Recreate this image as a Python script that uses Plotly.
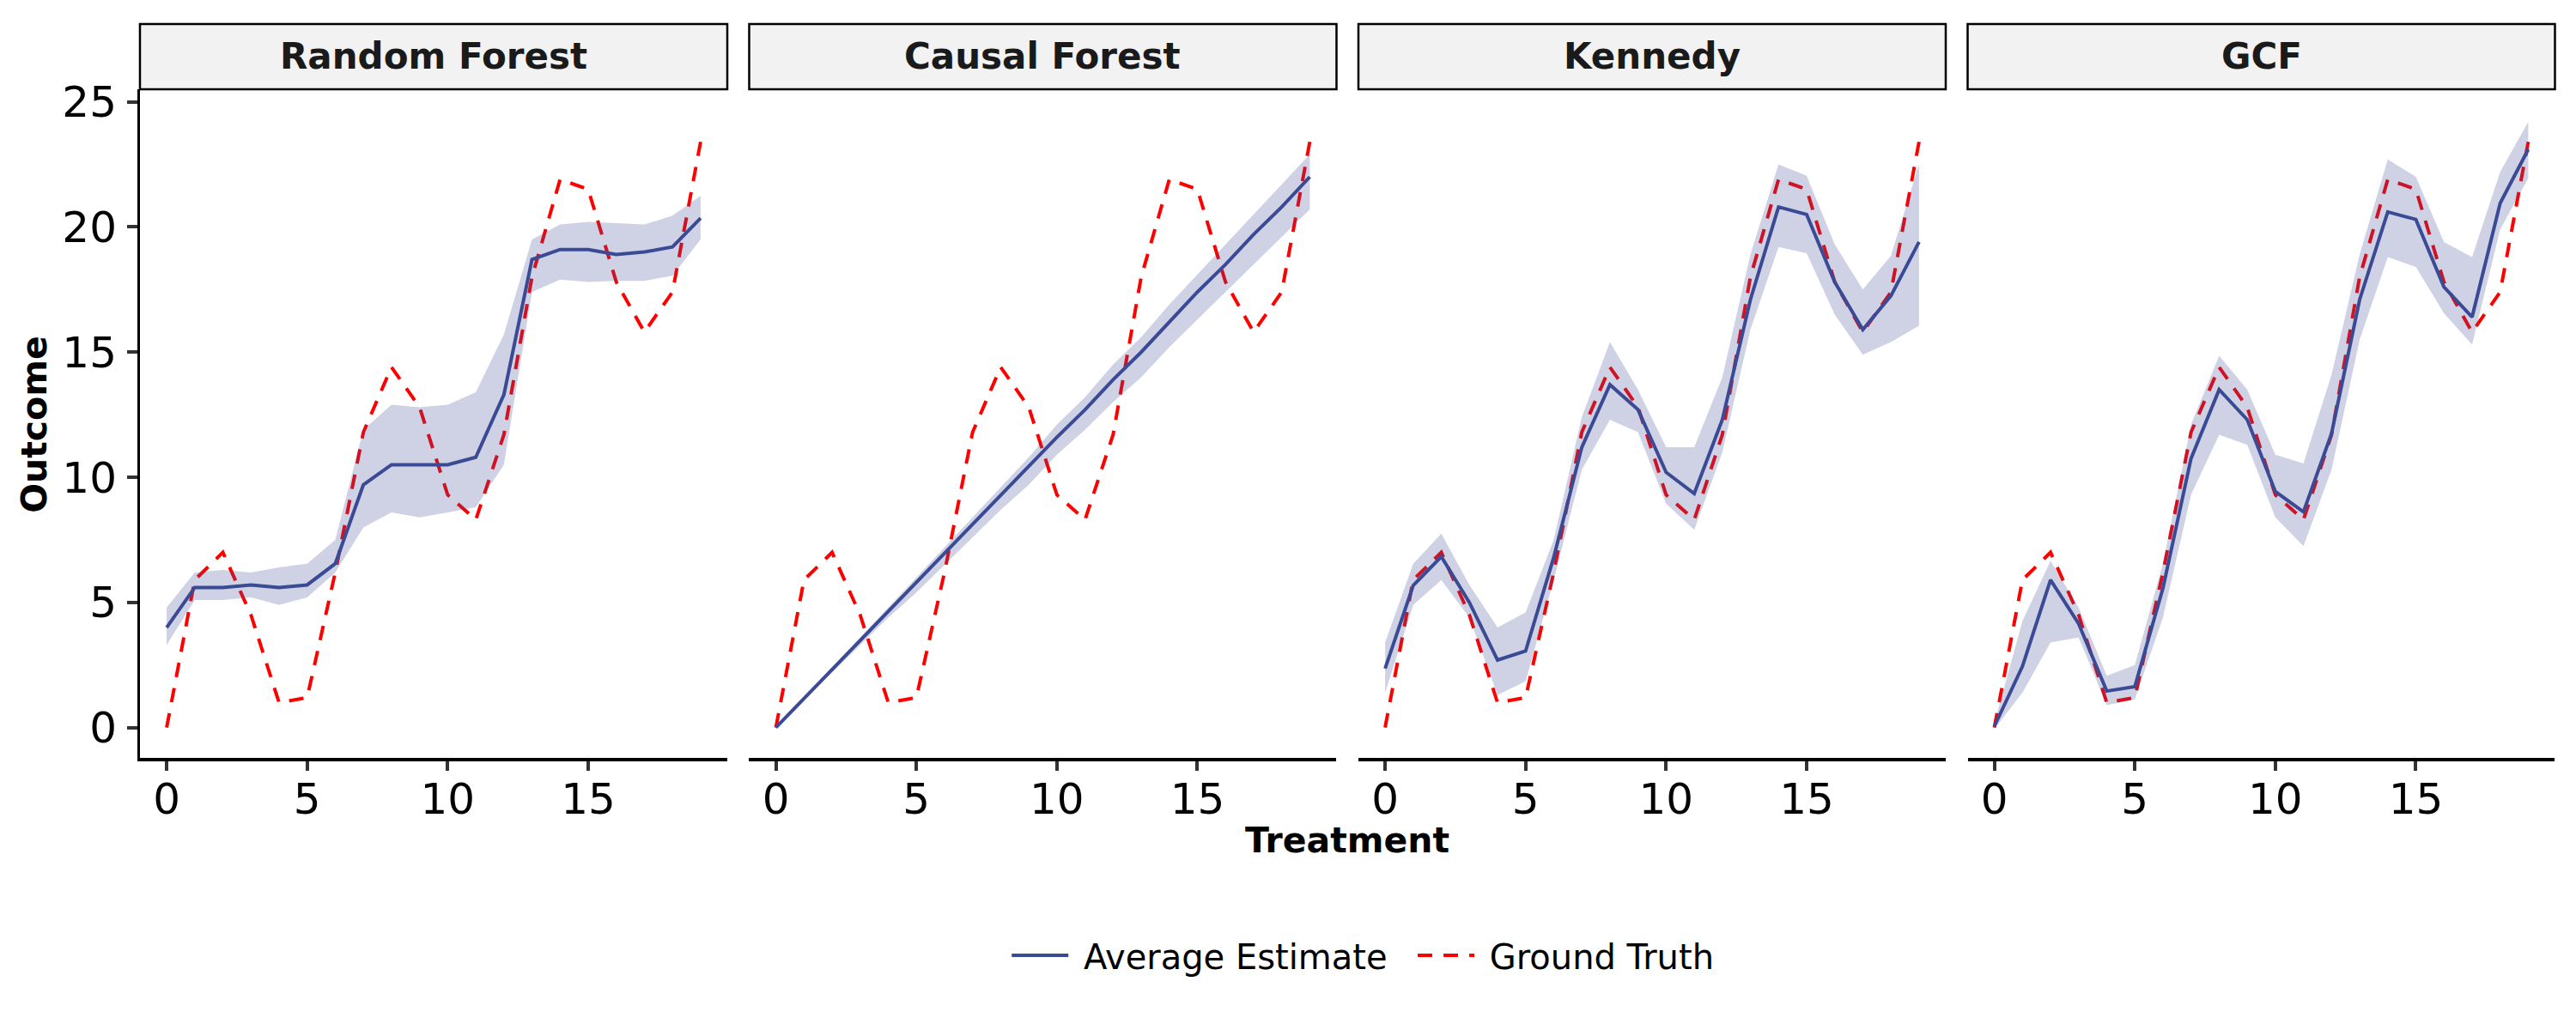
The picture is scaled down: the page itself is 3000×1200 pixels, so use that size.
import plotly.graph_objects as go

treatment = [0, 1, 2, 3, 4, 5, 6, 7, 8, 9, 10, 11, 12, 13, 14, 15, 16, 17, 18, 19]
methods = ["Random Forest", "Causal Forest", "Kennedy", "GCF"]

ground_truth = [0.0, 5.9, 7.0, 4.5, 1.0, 1.2, 6.2, 11.8, 14.4, 12.8,
                9.3, 8.3, 11.7, 18.0, 21.9, 21.5, 17.8, 15.8, 17.4, 23.4]

rf_est = [4.0, 5.6, 5.6, 5.7, 5.6, 5.7, 6.55, 9.7, 10.5, 10.5,
          10.5, 10.8, 13.3, 18.7, 19.1, 19.1, 18.9, 19.0, 19.2, 20.35]
rf_lo = [3.3, 5.1, 5.1, 5.2, 4.9, 5.2, 6.2, 8.0, 8.6, 8.4,
         8.6, 8.8, 10.5, 17.4, 17.9, 17.8, 17.85, 17.85, 18.05, 19.5]
rf_hi = [4.8, 6.2, 6.3, 6.2, 6.4, 6.55, 7.5, 11.9, 12.9, 12.8,
         12.9, 13.4, 15.7, 19.5, 20.1, 20.2, 20.15, 20.1, 20.45, 21.25]

cf_est = [0.0, 1.16, 2.32, 3.47, 4.63, 5.79, 6.95, 8.1, 9.26, 10.4,
          11.6, 12.7, 13.9, 15.0, 16.2, 17.4, 18.5, 19.7, 20.8, 22.0]
cf_lo = [0.0, 1.1, 2.2, 3.3, 4.4, 5.4, 6.5, 7.6, 8.7, 9.7,
         10.9, 11.9, 13.0, 14.0, 15.2, 16.3, 17.4, 18.5, 19.6, 20.7]
cf_hi = [0.0, 1.2, 2.4, 3.6, 4.8, 6.0, 7.2, 8.4, 9.6, 10.8,
         12.1, 13.2, 14.5, 15.6, 16.9, 18.1, 19.3, 20.5, 21.7, 22.9]

kn_est = [2.36, 5.68, 6.83, 5.0, 2.7, 3.06, 6.8, 11.2, 13.7, 12.7,
          10.2, 9.35, 12.3, 17.1, 20.8, 20.5, 17.8, 15.9, 17.25, 19.4]
kn_lo = [1.4, 4.9, 5.9, 4.4, 1.3, 1.85, 5.9, 10.3, 12.3, 11.8,
         8.95, 7.9, 11.0, 15.9, 19.2, 18.95, 16.5, 14.9, 15.4, 16.05]
kn_hi = [3.4, 6.55, 7.75, 5.7, 4.0, 4.6, 7.5, 12.4, 15.4, 13.5,
         11.2, 11.2, 14.0, 18.9, 22.5, 22.05, 19.3, 17.5, 18.85, 22.5]

gcf_est = [0.05, 2.45, 5.9, 4.15, 1.46, 1.64, 5.57, 10.75, 13.5, 12.3,
           9.43, 8.62, 11.75, 17.1, 20.6, 20.3, 17.6, 16.4, 20.95, 23.1]
gcf_lo = [-0.05, 1.4, 3.4, 3.6, 0.9, 1.13, 4.4, 9.3, 11.7, 11.3,
          8.4, 7.25, 10.3, 15.5, 18.8, 18.4, 16.55, 15.3, 19.9, 21.95]
gcf_hi = [0.17, 4.26, 6.66, 4.8, 2.07, 2.5, 6.55, 12.1, 14.85, 13.5,
          10.9, 10.55, 14.1, 18.9, 22.7, 22.0, 19.4, 18.8, 22.2, 24.2]

estimates = [rf_est, cf_est, kn_est, gcf_est]
lowers = [rf_lo, cf_lo, kn_lo, gcf_lo]
uppers = [rf_hi, cf_hi, kn_hi, gcf_hi]

BLUE = "#3B4A94"
BAND = "rgba(59,74,148,0.25)"
RED = "#FF0000"
FONT = "DejaVu Sans"
NB = "\u00a0"

# the page body keeps an 8px margin, so the figure is 2984x1184 to fit the window
W, H = 2984, 1184
x_domains = [[0.05194, 0.28117], [0.28971, 0.51893], [0.52748, 0.75670], [0.76525, 0.99447]]
y_domain = [0.26436, 0.92990]
strip_top = 0.99493

fig = go.Figure()

for i, name in enumerate(methods):
    xa = "x" if i == 0 else "x%d" % (i + 1)
    first = i == 0
    fig.add_trace(go.Scatter(
        x=treatment, y=ground_truth, mode="lines",
        name=NB + "Ground Truth",
        line=dict(color=RED, width=4, dash="17px,13px"),
        xaxis=xa, yaxis="y", showlegend=first, legendrank=2,
    ))
    fig.add_trace(go.Scatter(
        x=treatment, y=lowers[i], mode="lines", line=dict(width=0),
        xaxis=xa, yaxis="y", showlegend=False, hoverinfo="skip",
    ))
    fig.add_trace(go.Scatter(
        x=treatment, y=uppers[i], mode="lines", line=dict(width=0),
        fill="tonexty", fillcolor=BAND,
        xaxis=xa, yaxis="y", showlegend=False, hoverinfo="skip",
    ))
    fig.add_trace(go.Scatter(
        x=treatment, y=estimates[i], mode="lines",
        name=NB + "Average Estimate" + NB * 2,
        line=dict(color=BLUE, width=4),
        xaxis=xa, yaxis="y", showlegend=first, legendrank=1,
    ))

layout = dict(
    width=W, height=H,
    margin=dict(l=0, r=0, t=0, b=0),
    paper_bgcolor="white", plot_bgcolor="white",
    font=dict(family=FONT, color="black"),
    yaxis=dict(
        domain=y_domain, anchor="x", range=[-1.2, 25.5],
        tickvals=[0, 5, 10, 15, 20, 25], ticks="outside", ticklen=12,
        tickwidth=3.5, tickcolor="#333333", showgrid=False, zeroline=False,
        showline=True, linecolor="black", linewidth=3,
        tickfont=dict(size=50, color="black"), ticklabelstandoff=2,
    ),
    legend=dict(
        orientation="h", x=0.3905, y=0.06757, xanchor="left", yanchor="middle",
        font=dict(size=40, color="black"), traceorder="normal",
        itemwidth=66,
    ),
)
for i in range(4):
    key = "xaxis" if i == 0 else "xaxis%d" % (i + 1)
    layout[key] = dict(
        domain=x_domains[i], anchor="y", range=[-0.95, 19.95],
        tickvals=[0, 5, 10, 15], ticks="outside", ticklen=11, tickwidth=3.5,
        tickcolor="#333333", showgrid=False, zeroline=False,
        showline=True, linecolor="black", linewidth=4,
        tickfont=dict(size=50, color="black"), ticklabelstandoff=-10,
    )
fig.update_layout(**layout)

# facet strips
for i, name in enumerate(methods):
    fig.add_shape(type="rect", xref="paper", yref="paper",
                  x0=x_domains[i][0], x1=x_domains[i][1],
                  y0=y_domain[1], y1=strip_top,
                  fillcolor="#F2F2F2", line=dict(color="black", width=2.5))
    fig.add_annotation(text="<b>%s</b>" % name, xref="paper", yref="paper",
                       x=(x_domains[i][0] + x_domains[i][1]) / 2,
                       y=(y_domain[1] + strip_top) / 2,
                       showarrow=False, font=dict(size=42, color="#1A1A1A"),
                       xanchor="center", yanchor="middle")

# axis titles
fig.add_annotation(text="<b>Treatment</b>", xref="paper", yref="paper",
                   x=0.52312, y=0.18243, showarrow=False,
                   xanchor="center", yanchor="middle",
                   font=dict(size=41, color="black"))
fig.add_annotation(text="<b>Outcome</b>", xref="paper", yref="paper",
                   x=0.01072, y=0.59671, showarrow=False, textangle=-90,
                   xanchor="center", yanchor="middle",
                   font=dict(size=41, color="black"))

fig.write_html("out.html")
